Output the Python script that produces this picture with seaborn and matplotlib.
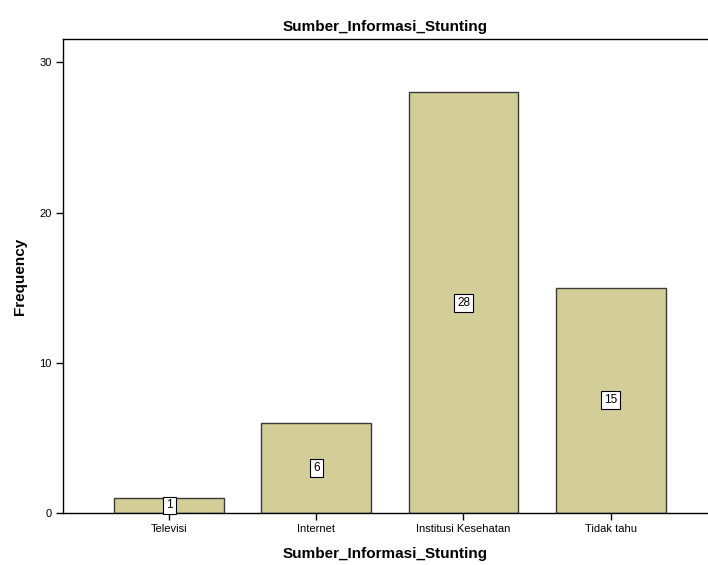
import matplotlib
matplotlib.use("Agg")
import matplotlib.pyplot as plt
import seaborn as sns
import pandas as pd

categories = ["Televisi", "Internet", "Institusi Kesehatan", "Tidak tahu"]
frequencies = [1, 6, 28, 15]
y_ticks = [0, 10, 20, 30]

sns.set_style("white")
plt.rcParams["font.family"] = ["Liberation Sans", "DejaVu Sans"]
plt.rcParams.update({
    "text.color": "black",
    "axes.labelcolor": "black",
    "xtick.color": "black",
    "ytick.color": "black",
})

df = pd.DataFrame({"Sumber_Informasi_Stunting": categories, "Frequency": frequencies})

fig = plt.figure(figsize=(7.08, 5.65), dpi=100)
ax = fig.add_axes([63 / 708, 52 / 565, 1 - 63 / 708, (513 - 39) / 565])

sns.barplot(data=df, x="Sumber_Informasi_Stunting", y="Frequency", ax=ax,
            color="#D3CE97", saturation=1, width=0.748,
            edgecolor="#3a3a3a", linewidth=1.0)

ax.set_xlim(-0.724, 3.663)
ax.set_ylim(0, 31.55)
ax.set_yticks(y_ticks)
ax.set_yticklabels([str(t) for t in y_ticks], fontsize=8)
ax.set_xticks(range(len(categories)))
ax.set_xticklabels(categories, fontsize=8)
ax.tick_params(axis="both", direction="out", length=5, width=1, color="black",
               bottom=True, left=True, pad=3)

for side in ["left", "bottom", "top"]:
    ax.spines[side].set_visible(True)
    ax.spines[side].set_color("black")
    ax.spines[side].set_linewidth(1.0)
ax.spines["right"].set_visible(False)

for i, v in enumerate(frequencies):
    ax.text(i, v / 2, str(v), ha="center", va="center", fontsize=8.5,
            bbox=dict(boxstyle="square,pad=0.25", facecolor="white",
                      edgecolor="black", linewidth=0.8))

ax.set_title("Sumber_Informasi_Stunting", fontsize=11, fontweight="bold", pad=6)
ax.set_xlabel("Sumber_Informasi_Stunting", fontsize=11, fontweight="bold", labelpad=9)
ax.set_ylabel("Frequency", fontsize=11, fontweight="bold", labelpad=9)

fig.savefig("out.png", dpi=100)
